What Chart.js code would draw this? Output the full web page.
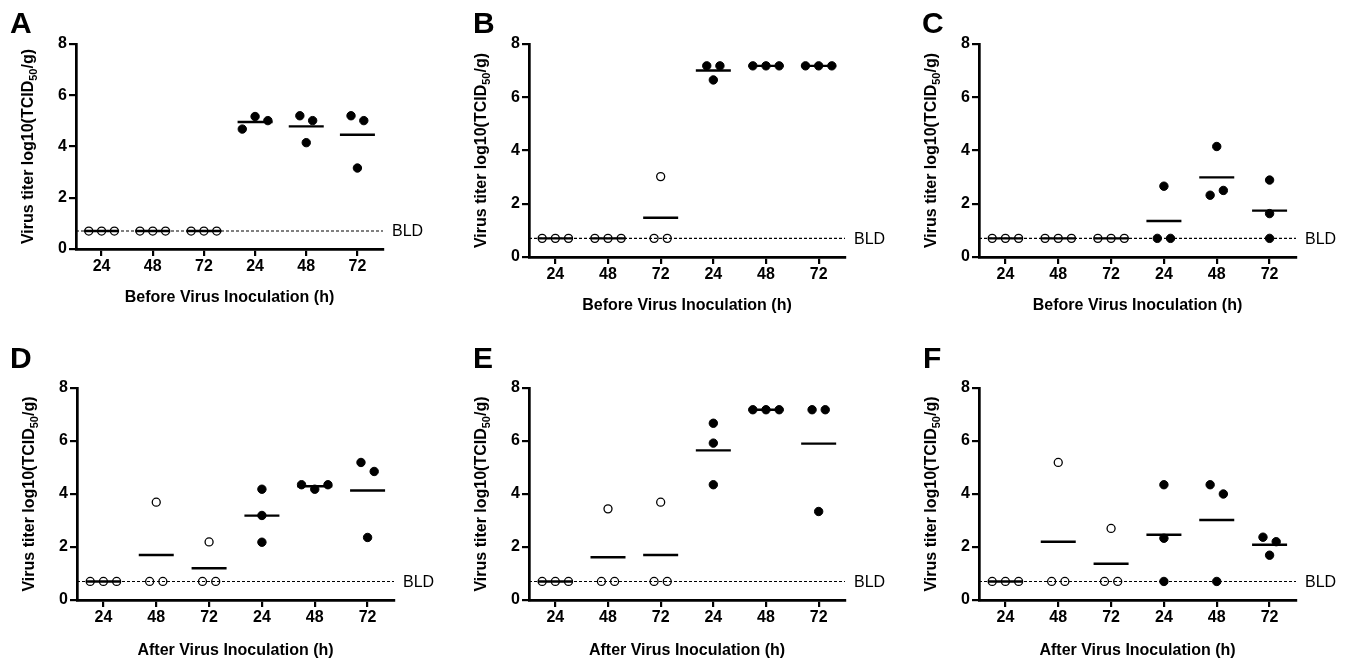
<!DOCTYPE html>
<html><head><meta charset="utf-8">
<script src="https://cdn.jsdelivr.net/npm/chart.js@4.4.1/dist/chart.umd.min.js"></script>
<style>
html,body{margin:0;padding:0;background:#fff;}
#wrap{position:relative;width:1349px;height:662px;overflow:hidden;background:#fff;}
canvas{position:absolute;}
</style></head><body><div id="wrap"></div>
<script>
// ---- data ----
const xTickLabels = ["24","48","72","24","48","72"];
const yTickStep = 2;
const yMax = 8;
const BLD = 0.7;
const yTitleMain = "Virus titer log10(TCID";
const yTitleSub = "50";
const yTitleEnd = "/g)";
const xTitleBefore = "Before Virus Inoculation (h)";
const xTitleAfter = "After Virus Inoculation (h)";
const panelLetters = ["A","B","C","D","E","F"];

const panelA = [[0.7,0.7,0.7],[0.7,0.7,0.7],[0.7,0.7,0.7],[4.68,5.17,5.01],[5.2,4.15,5.01],[5.2,3.16,5.01]];
const panelB = [[0.7,0.7,0.7],[0.7,0.7,0.7],[0.7,3.02,0.7],[7.18,6.65,7.18],[7.18,7.18,7.18],[7.18,7.18,7.18]];
const panelC = [[0.7,0.7,0.7],[0.7,0.7,0.7],[0.7,0.7,0.7],[0.7,2.66,0.7],[2.32,4.15,2.5],[2.89,1.63,0.7]];
const panelD = [[0.7,0.7,0.7],[0.7,3.69,0.7],[0.7,2.19,0.7],[4.18,3.19,2.18],[4.35,4.18,4.35],[5.19,2.36,4.85]];
const panelE = [[0.7,0.7,0.7],[0.7,3.44,0.7],[0.7,3.69,0.7],[6.67,5.92,4.35],[7.18,7.18,7.18],[7.18,3.34,7.18]];
const panelF = [[0.7,0.7,0.7],[0.7,5.19,0.7],[0.7,2.7,0.7],[4.35,2.33,0.7],[4.35,0.7,4.0],[2.37,1.69,2.2]];

// ---- layout (positions only) ----
const panels = [
  {data:panelA, xt:xTitleBefore, left:0,   top:0,   W:450, H:330, L:76, T:44, R:383, B:249, lx:10, ly:33, xtOff:53},
  {data:panelB, xt:xTitleBefore, left:450, top:0,   W:450, H:330, L:79, T:44, R:395, B:257, lx:23, ly:33, xtOff:53},
  {data:panelC, xt:xTitleBefore, left:900, top:0,   W:449, H:330, L:79, T:44, R:396, B:257, lx:22, ly:33, xtOff:53},
  {data:panelD, xt:xTitleAfter,  left:0,   top:330, W:450, H:332, L:77, T:58, R:394, B:270, lx:10, ly:38, xtOff:55},
  {data:panelE, xt:xTitleAfter,  left:450, top:330, W:450, H:332, L:79, T:58, R:395, B:270, lx:23, ly:38, xtOff:55},
  {data:panelF, xt:xTitleAfter,  left:900, top:330, W:449, H:332, L:79, T:58, R:396, B:270, lx:23, ly:38, xtOff:55}
];
const FONT = '"Liberation Sans", Arial, Helvetica, sans-serif';

function offsets(vals){
  const idx = vals.map((v,i)=>i).sort((a,b)=>vals[a]-vals[b]);
  const clusters=[]; let cur=[idx[0]];
  for(let k=1;k<idx.length;k++){
    if(vals[idx[k]]-vals[idx[k-1]]<0.4) cur.push(idx[k]); else {clusters.push(cur); cur=[idx[k]];}
  }
  clusters.push(cur);
  const off = new Array(vals.length).fill(0);
  clusters.forEach(c=>{c.sort((a,b)=>a-b); c.forEach((i,j)=>{off[i]=(j-(c.length-1)/2)*0.25;});});
  return off;
}
const mean = a => a.reduce((s,v)=>s+v,0)/a.length;

panels.forEach((p,pi)=>{
  const cv = document.createElement('canvas');
  cv.width = p.W; cv.height = p.H;
  cv.style.left = p.left+'px'; cv.style.top = p.top+'px';
  cv.style.width = p.W+'px'; cv.style.height = p.H+'px';
  document.getElementById('wrap').appendChild(cv);

  const open=[], filled=[], means=[];
  p.data.forEach((g,gi)=>{
    const off = offsets(g);
    g.forEach((v,k)=>{ (gi<3?open:filled).push({x:gi+off[k], y:v}); });
    means.push({x:gi, y:mean(g)});
  });

  const labelPlugin = {
    id:'labels'+pi,
    afterDraw(chart){
      const ctx = chart.ctx, ca = chart.chartArea;
      ctx.save();
      ctx.fillStyle = '#000';
      ctx.font = 'bold 30px '+FONT;
      ctx.textAlign='left'; ctx.textBaseline='alphabetic';
      ctx.fillText(panelLetters[pi], p.lx, p.ly);
      ctx.font = 'bold 16px '+FONT;
      ctx.textAlign='center';
      ctx.fillText(p.xt, (ca.left+ca.right)/2, ca.bottom + p.xtOff);
      ctx.font = '16px '+FONT;
      ctx.textAlign='left'; ctx.textBaseline='middle';
      ctx.fillText('BLD', ca.right + 9, chart.scales.y.getPixelForValue(BLD)+1);
      ctx.textBaseline='alphabetic';
      ctx.translate(ca.left - 43, (ca.top+ca.bottom)/2);
      ctx.rotate(-Math.PI/2);
      ctx.font = 'bold 16px '+FONT;
      const w1 = ctx.measureText(yTitleMain).width;
      const w3 = ctx.measureText(yTitleEnd).width;
      ctx.font = 'bold 11px '+FONT;
      const w2 = ctx.measureText(yTitleSub).width;
      let x0 = -(w1+w2+w3)/2;
      ctx.font = 'bold 16px '+FONT;
      ctx.fillText(yTitleMain, x0, 0);
      ctx.font = 'bold 11px '+FONT;
      ctx.fillText(yTitleSub, x0+w1, 4);
      ctx.font = 'bold 16px '+FONT;
      ctx.fillText(yTitleEnd, x0+w1+w2, 0);
      ctx.restore();
    }
  };

  new Chart(cv, {
    type:'scatter',
    data:{datasets:[
      {data:filled, pointRadius:4.2, pointBackgroundColor:'#000', pointBorderColor:'#000', pointBorderWidth:1, showLine:false},
      {data:open, pointRadius:4, pointBackgroundColor:'rgba(0,0,0,0)', pointBorderColor:'#000', pointBorderWidth:1.3, showLine:false},
      {data:means, pointStyle:'line', pointRadius:17.5, pointBorderColor:'#000', pointBorderWidth:2.4, showLine:false},
      {data:[{x:-0.5,y:BLD},{x:5.5,y:BLD}], showLine:true, borderColor:'#000', borderWidth:1.1, borderDash:[3,2], pointRadius:0}
    ]},
    options:{
      responsive:false, animation:false, devicePixelRatio:1,
      layout:{padding:{left:0, top:p.T, right:p.W-p.R, bottom:0}},
      plugins:{legend:{display:false}, tooltip:{enabled:false}},
      scales:{
        x:{type:'linear', min:-0.5, max:5.5,
          afterBuildTicks:s=>{ s.ticks = xTickLabels.map((t,i)=>({value:i})); },
          afterFit:s=>{ s.height = p.H - p.B; },
          ticks:{callback:(v)=>xTickLabels[v], color:'#000', font:{family:FONT, size:16, weight:'bold'}, padding:1, maxRotation:0, autoSkip:false},
          grid:{display:true, drawOnChartArea:false, drawTicks:true, tickLength:7, color:'#000', lineWidth:2.2},
          border:{display:true, color:'#000', width:2.7}
        },
        y:{type:'linear', min:0, max:yMax,
          afterFit:s=>{ s.width = p.L; },
          ticks:{stepSize:yTickStep, color:'#000', font:{family:FONT, size:16, weight:'bold'}, padding:2},
          grid:{display:true, drawOnChartArea:false, drawTicks:true, tickLength:7, color:'#000', lineWidth:2.2},
          border:{display:true, color:'#000', width:2.7}
        }
      }
    },
    plugins:[labelPlugin]
  });
});
</script></body></html>
